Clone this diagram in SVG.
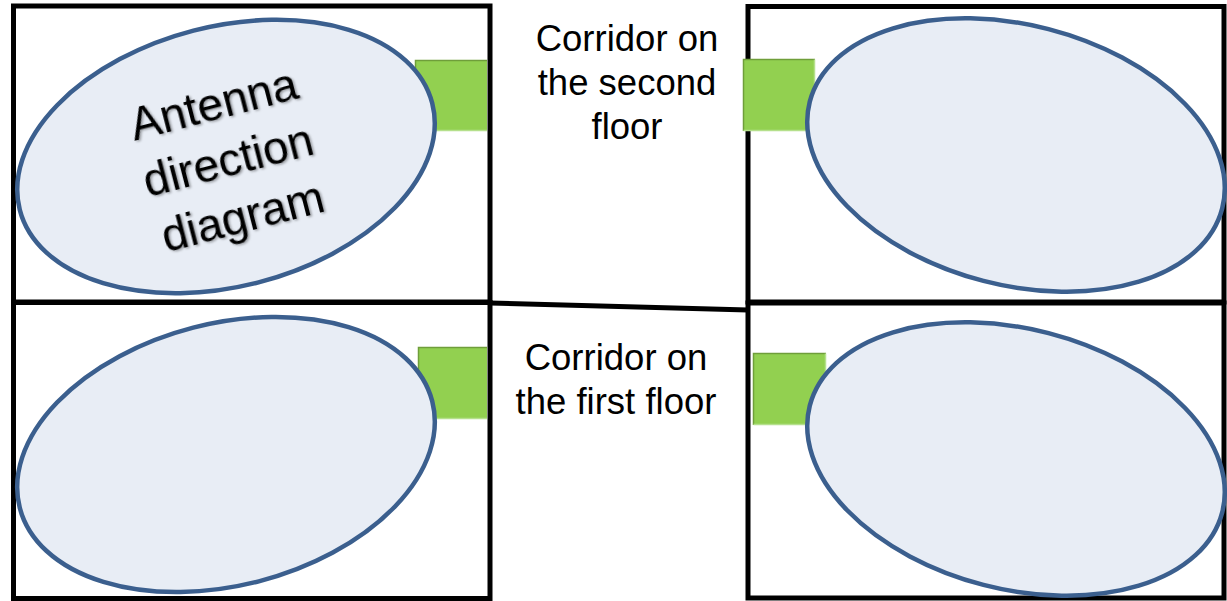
<svg xmlns="http://www.w3.org/2000/svg" width="1227" height="601" viewBox="0 0 1227 601">
<style>
.room{fill:none;stroke:#000;stroke-width:5}
.ant{fill:#92d050}
.bevd{fill:none;stroke:#6f9e3a;stroke-width:1.5}
.bevl{fill:none;stroke:#b5e08c;stroke-width:1.5}
.pat{fill:#e8edf5;stroke:#3b5f8e;stroke-width:4.5}
.lbl{font-family:"Liberation Sans",Arial,sans-serif;font-size:36.5px;fill:#000;text-anchor:middle}
.big{font-family:"Liberation Sans",Arial,sans-serif;font-size:46px;fill:#000;text-anchor:middle}
</style>
<defs>
<filter id="sh" x="-10%" y="-10%" width="130%" height="130%">
<feDropShadow dx="1.5" dy="1.5" stdDeviation="1.2" flood-color="#000" flood-opacity="0.35"/>
</filter>
</defs>
<rect width="1227" height="601" fill="#fff"/>
<g id="connectors">
<line x1="490" y1="303" x2="748" y2="310" stroke="#000" stroke-width="5"/>
</g>
<g id="room-tl">
<rect class="room" x="13.5" y="6" width="476.5" height="296"/>
<rect class="ant" x="415" y="60" width="72" height="71"/>
<polyline class="bevd" points="415.5,131 415.5,60.5 487,60.5"/>
<polyline class="bevl" points="415.5,130.5 487,130.5"/>
<ellipse class="pat" cx="226" cy="156.5" rx="213" ry="130" transform="rotate(-14.5 226 156.5)"/>
<g transform="rotate(-14.5 228 160)" filter="url(#sh)">
<text class="big" x="228" y="118">Antenna</text>
<text class="big" x="228" y="176">direction</text>
<text class="big" x="228" y="234">diagram</text>
</g>
</g>
<g id="room-tr">
<rect class="room" x="748" y="6.5" width="476" height="295.5"/>
<rect class="ant" x="743" y="59" width="72" height="72"/>
<polyline class="bevd" points="743.5,131 743.5,59.5 815,59.5"/>
<polyline class="bevl" points="743.5,130.5 814.5,130.5 814.5,59.5"/>
<ellipse class="pat" cx="1016" cy="155" rx="213" ry="130" transform="rotate(14.5 1016 155)"/>
</g>
<g id="room-bl">
<rect class="room" x="13.5" y="302.5" width="476.5" height="296"/>
<rect class="ant" x="418" y="347" width="69" height="72"/>
<polyline class="bevd" points="418.5,419 418.5,347.5 487,347.5"/>
<polyline class="bevl" points="418.5,418.5 487,418.5"/>
<ellipse class="pat" cx="226" cy="454.5" rx="213" ry="131" transform="rotate(-14.5 226 454.5)"/>
</g>
<g id="room-br">
<rect class="room" x="748" y="303" width="476" height="295"/>
<rect class="ant" x="753" y="353" width="73" height="72"/>
<polyline class="bevd" points="753.5,425 753.5,353.5 826,353.5"/>
<polyline class="bevl" points="753.5,424.5 825.5,424.5 825.5,353.5"/>
<ellipse class="pat" cx="1016" cy="459" rx="213" ry="130" transform="rotate(14.5 1016 459)"/>
</g>
<g id="label-second">
<text class="lbl" x="627" y="51">Corridor on</text>
<text class="lbl" x="627" y="95">the second</text>
<text class="lbl" x="627" y="139">floor</text>
</g>
<g id="label-first">
<text class="lbl" x="616" y="370">Corridor on</text>
<text class="lbl" x="616" y="414">the first floor</text>
</g>
</svg>
